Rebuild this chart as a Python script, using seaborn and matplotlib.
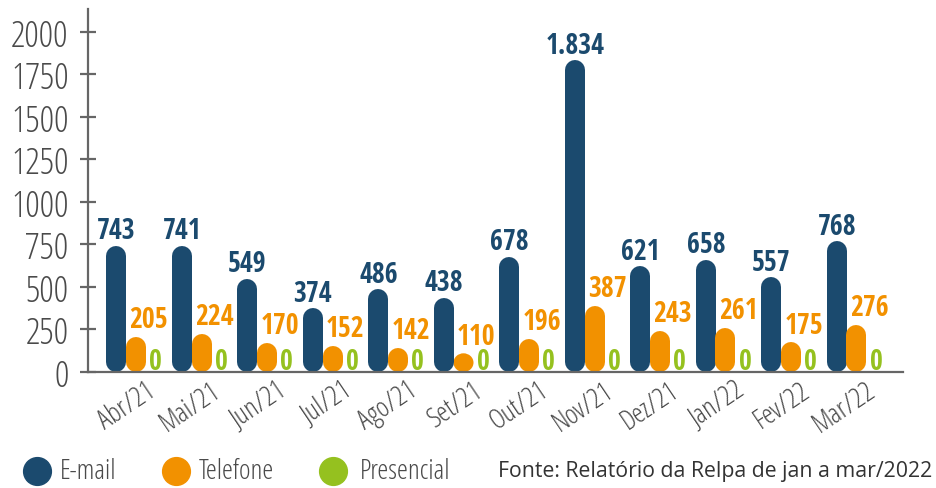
import matplotlib
matplotlib.use("Agg")
import matplotlib.pyplot as plt
import matplotlib.transforms as mtransforms
from matplotlib.lines import Line2D
from matplotlib.patches import Ellipse
import pandas as pd
import seaborn as sns

# ── data ──────────────────────────────────────────────────────────────────────
months     = ["Abr/21", "Mai/21", "Jun/21", "Jul/21", "Ago/21", "Set/21",
              "Out/21", "Nov/21", "Dez/21", "Jan/22", "Fev/22", "Mar/22"]
email      = [743, 741, 549, 374, 486, 438, 678, 1834, 621, 658, 557, 768]
telefone   = [205, 224, 170, 152, 142, 110, 196, 387, 243, 261, 175, 276]
presencial = [0] * 12
series     = ["E-mail", "Telefone", "Presencial"]
yticks     = [0, 250, 500, 750, 1000, 1250, 1500, 1750, 2000]
source     = "Fonte: Relatório da Relpa de jan a mar/2022"

colors = {"E-mail": "#1B4A6E", "Telefone": "#F29100", "Presencial": "#95C11F"}
GREY = "#4A4A4A"
# condensed faces: bold lives in "Open Sans Condensed", light in "Open Sans" (stretch=condensed)
BOLD  = dict(family=["Open Sans Condensed", "Open Sans", "DejaVu Sans"],
             fontweight="bold", fontstretch="condensed")
LIGHT = dict(family=["Open Sans", "DejaVu Sans"], fontweight="light",
             fontstretch="condensed")

df = pd.DataFrame({
    "mes":   months * 3,
    "canal": [s for s in series for _ in months],
    "valor": email + telefone + presencial,
})

# ── figure / axes ─────────────────────────────────────────────────────────────
W, H, DPI = 937, 489, 100
fig = plt.figure(figsize=(W / DPI, H / DPI), dpi=DPI)
ax = fig.add_axes([88 / W, (H - 373) / H, 815 / W, (373 - 10) / H])
YMAX = 2135

sns.barplot(data=df, x="mes", y="valor", hue="canal", hue_order=series,
            palette=colors, width=0.9, legend=False, ax=ax)
ax.set_xlim(-0.733, 11.71)
ax.set_ylim(0, YMAX)

# pixel sizes -> data units
px_y = YMAX / (373 - 10)
px_x = 12.443 / 815
PILL = 20  # px
r_data = PILL / 2 * px_y

# ── replace rectangles by rounded pills ──────────────────────────────────────
for name, cont in zip(series, ax.containers):
    for bar, v in zip(cont.patches, df[df.canal == name]["valor"]):
        bar.set_visible(False)
        xc = bar.get_x() + bar.get_width() / 2
        col = colors[name]
        if v > 0:
            if v > 2 * r_data:
                ax.add_line(Line2D([xc, xc], [r_data, v - r_data], color=col,
                                   lw=PILL * 72 / DPI, solid_capstyle="round"))
            else:
                ax.add_patch(Ellipse((xc, v / 2), PILL * px_x, v, color=col, lw=0))
        if name == "E-mail":
            txt = f"{v:,}".replace(",", ".")
            ax.annotate(txt, (xc, v), xytext=(0, 5.5), textcoords="offset points",
                        ha="center", va="baseline", color=col, fontsize=20, **BOLD)
        elif name == "Telefone":
            ax.annotate(f"{v}", (xc, v), xytext=(9, 7), textcoords="offset points",
                        ha="center", va="baseline", color=col, fontsize=20, **BOLD)
        else:
            ax.annotate(f"{v}", (xc, 0), xytext=(0, 2.2), textcoords="offset points",
                        ha="center", va="baseline", color=col, fontsize=20, **BOLD)

# ── axes styling ──────────────────────────────────────────────────────────────
for s in ["top", "right"]:
    ax.spines[s].set_visible(False)
for s in ["left", "bottom"]:
    ax.spines[s].set_color("#666666")
    ax.spines[s].set_linewidth(1.6)
ax.set_xlabel("")
ax.set_ylabel("")
ax.set_yticks(yticks)
ax.set_yticklabels([str(t) for t in yticks], fontsize=26, color=GREY, **LIGHT)
ax.tick_params(axis="y", direction="inout", length=12, width=1.6, color="#666666", pad=8)
ax.tick_params(axis="x", length=0, pad=3)
ax.set_xticks(range(len(months)))
ax.set_xticklabels(months, rotation=34, ha="right", va="top", rotation_mode="anchor",
                   fontsize=20, color=GREY, **LIGHT)
offset = mtransforms.ScaledTranslation(9 / DPI, 0, fig.dpi_scale_trans)
for lab in ax.get_xticklabels():
    lab.set_transform(lab.get_transform() + offset)

# ── legend + source ───────────────────────────────────────────────────────────
leg_y = 1 - 472 / H
for name, mx, tx in zip(series, [37, 176, 333], [60, 199, 360]):
    fig.add_artist(Line2D([mx / W], [leg_y], marker="o", markersize=20, color=colors[name],
                          transform=fig.transFigure, linestyle="none"))
    fig.text(tx / W, leg_y, name, ha="left", va="center", fontsize=20,
             color=GREY, **LIGHT)
fig.text(932 / W, leg_y, source, ha="right", va="center", fontsize=15.3,
         color="#333333", family=["Open Sans", "DejaVu Sans"])

fig.savefig("out.png", dpi=DPI)
